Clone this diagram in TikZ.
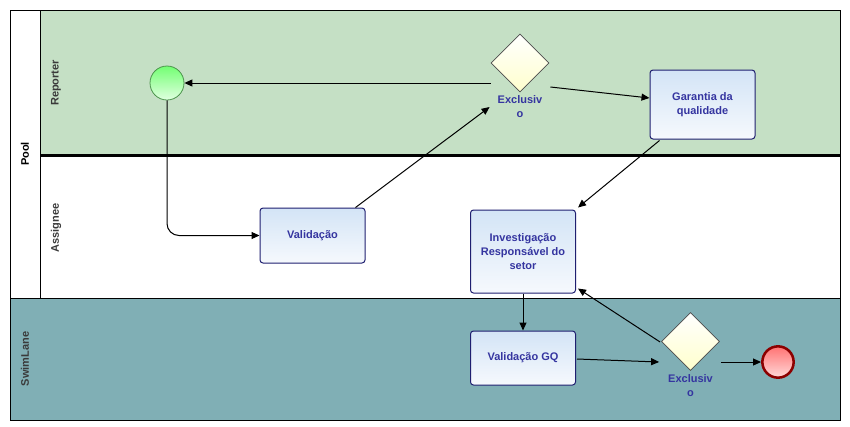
\documentclass[tikz,border=0pt]{standalone}
\usepackage{fontspec}
\setmainfont{Liberation Sans}
\usetikzlibrary{shapes.geometric,arrows.meta,calc}
\definecolor{lanegreen}{HTML}{C5E0C5}
\definecolor{laneteal}{HTML}{80AFB5}
\definecolor{txtblue}{HTML}{3535A0}
\definecolor{boxborder}{HTML}{1F1F70}
\definecolor{boxtop}{HTML}{D3E4F6}
\definecolor{boxbot}{HTML}{F6F9FD}
\definecolor{gwbot}{HTML}{FFFFCC}
\definecolor{lanetxt}{HTML}{3A3A3A}
\tikzset{
  tasknode/.style={rectangle, rounded corners=2.25pt, draw=boxborder, line width=0.75pt,
    top color=boxtop, bottom color=boxbot, minimum width=78.75pt, align=center,
    text=txtblue, font=\fontsize{8.25}{10.5}\selectfont\bfseries, inner sep=0pt},
  gwnode/.style={diamond, draw=black!70, line width=0.6pt, top color=white, bottom color=gwbot,
    minimum width=43.5pt, minimum height=43.5pt, inner sep=0pt},
  gwlabel/.style={align=center, text=txtblue, font=\fontsize{8.25}{10.5}\selectfont\bfseries, inner sep=0pt},
  lanelabel/.style={rotate=90, font=\fontsize{8.25}{10}\selectfont\bfseries, inner sep=0pt},
  conn/.style={draw=black, line width=0.75pt, -{Triangle[length=6pt,width=5.25pt]}},
}
\begin{document}
\begin{tikzpicture}[x=0.75pt,y=-0.75pt]
\useasboundingbox (0,0) rectangle (850,426);
\fill[white] (0,0) rectangle (850,426);
% lanes
\fill[lanegreen] (40,10) rectangle (840,155);
\fill[laneteal] (10,298) rectangle (840,420);
\draw[line width=0.75pt] (10,10) rectangle (840,420);
\draw[line width=0.75pt] (40,10) -- (40,298);
\draw[line width=0.75pt] (10,298) -- (840,298);
\draw[line width=2.25pt] (40,155) -- (840,155);
\node[lanelabel, text=black] (lpool) at (25,154) {Pool};
\node[lanelabel, text=lanetxt] (lrep) at (56,83) {Reporter};
\node[lanelabel, text=lanetxt] (lass) at (56,228) {Assignee};
\node[lanelabel, text=lanetxt] (lswim) at (25,359) {SwimLane};
% events
\node[circle, draw=green!40!black!70, line width=0.6pt, top color=green!55, bottom color=green!12,
  minimum size=25.5pt, inner sep=0pt] (start) at (167,83) {};
\node[circle, draw=red!55!black, line width=1.9pt, top color=red!55, bottom color=red!15,
  minimum size=23.5pt, inner sep=0pt] (end) at (778,362) {};
% gateways
\node[gwnode] (gw1) at (520,63) {};
\node[gwlabel] (gw1l) at (520,107) {Exclusiv\\o};
\node[gwnode] (gw2) at (690.5,341.5) {};
\node[gwlabel] (gw2l) at (690.5,385.5) {Exclusiv\\o};
% tasks
\node[tasknode, minimum height=51.75pt] (garantia) at (702.5,104.5) {Garantia da\\qualidade};
\node[tasknode, minimum height=41.25pt] (valid) at (312.5,235.5) {Validação};
\node[tasknode, minimum height=62.25pt] (invest) at (523,251.5) {Investigação\\Responsável do\\setor};
\node[tasknode, minimum height=40.5pt] (gq) at (523,358) {Validação GQ};
% connectors
\draw[conn] ($(gw1.west)+(0,20)$) -- (start.east);
\draw[conn] ($(gw1.east)+(1,24)$) -- ($(garantia.west)+(0,-6.5)$);
\draw[conn] ($(garantia.south west)+(10,1)$) -- ($(invest.north east)+(2,-2)$);
\draw[conn, rounded corners=9pt] (start.south) |- (valid.west);
\draw[conn] ($(valid.north east)+(-10,0)$) -- ($(gw1.west)+(-1,44)$);
\draw[conn] (invest.south) -- (gq.north);
\draw[conn] ($(gq.east)+(1,1)$) -- ($(gw2.west)+(-2,20.5)$);
\draw[conn] ($(gw2.west)+(-1,0.5)$) -- ($(invest.south east)+(2,-5)$);
\draw[conn] ($(gw2.east)+(1,20.5)$) -- (end.west);
\end{tikzpicture}
\end{document}
